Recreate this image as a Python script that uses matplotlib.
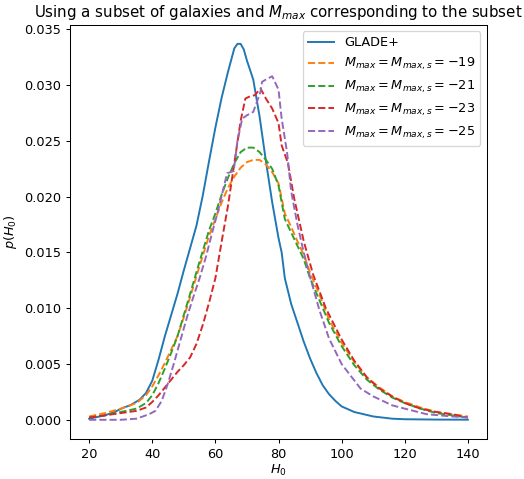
import matplotlib
matplotlib.use("Agg")
import matplotlib.pyplot as plt

# GLADE+ posterior
h0_glade = [20, 25, 28, 31, 33, 36, 38, 40, 42, 44, 46, 48, 50, 52, 54, 56, 58, 60, 62, 64, 66, 67, 68,
            69, 70, 72, 74, 76, 78, 80, 81, 82, 84, 86, 88, 90, 92, 94, 96, 98, 100, 104, 110, 116,
            120, 130, 140]
p_glade = [0.0001, 0.0004, 0.0007, 0.0011, 0.0013, 0.0018, 0.0024, 0.0035, 0.0054, 0.0075, 0.0094,
           0.0113, 0.0134, 0.0154, 0.0174, 0.0201, 0.0232, 0.0262, 0.0289, 0.0312, 0.0333, 0.0337,
           0.0337, 0.0332, 0.0322, 0.0305, 0.0272, 0.0232, 0.0195, 0.0163, 0.0150, 0.0127, 0.0104,
           0.0087, 0.0070, 0.0055, 0.0042, 0.0031, 0.0023, 0.0017, 0.0012, 0.0007, 0.0003, 0.0001,
           0.00005, 0.00002, 0.00001]

# M_max = -19
h0_19 = [20, 25, 30, 35, 38, 40, 42, 44, 46, 48, 50, 52, 55, 58, 60, 62, 64, 66, 68, 70, 72, 74, 76,
         78, 80, 82, 84, 86, 88, 90, 93, 96, 100, 104, 108, 112, 116, 120, 125, 130, 135, 140]
p_19 = [0.0003, 0.0006, 0.0010, 0.0015, 0.0022, 0.0030, 0.0040, 0.0051, 0.0063, 0.0075, 0.0092,
        0.0110, 0.0138, 0.0165, 0.0180, 0.0195, 0.0208, 0.0218, 0.0226, 0.0231, 0.0233, 0.0233,
        0.0229, 0.0222, 0.0212, 0.0185, 0.0173, 0.0160, 0.0148, 0.0132, 0.0112, 0.0090, 0.0069,
        0.0052, 0.0038, 0.0029, 0.0021, 0.0016, 0.0011, 0.0007, 0.0005, 0.0003]

# M_max = -21
h0_21 = [20, 25, 30, 35, 38, 40, 42, 44, 46, 48, 50, 52, 55, 58, 60, 62, 64, 66, 68, 70, 72, 74, 76,
         78, 80, 82, 84, 86, 88, 90, 93, 96, 100, 104, 108, 112, 116, 120, 125, 130, 135, 140]
p_21 = [0.0002, 0.0004, 0.0007, 0.0010, 0.0015, 0.0022, 0.0033, 0.0046, 0.0060, 0.0075, 0.0094,
        0.0113, 0.0142, 0.0170, 0.0185, 0.0202, 0.0217, 0.0230, 0.0240, 0.0244, 0.0244, 0.0240,
        0.0233, 0.0225, 0.0210, 0.0180, 0.0168, 0.0156, 0.0144, 0.0127, 0.0107, 0.0087, 0.0066,
        0.0049, 0.0036, 0.0027, 0.0020, 0.0015, 0.0010, 0.0006, 0.0004, 0.0002]

# M_max = -23
h0_23 = [20, 25, 30, 35, 38, 40, 42, 44, 46, 48, 50, 52, 54, 56, 58, 60, 62, 64, 66, 68, 69.5, 71,
         72.5, 74.3, 76, 78, 80, 81, 83, 85, 88, 91, 95, 100, 104, 108, 112, 116, 120, 125, 130,
         135, 140]
p_23 = [0.0002, 0.0004, 0.0006, 0.0008, 0.0011, 0.0016, 0.0022, 0.0029, 0.0036, 0.0043, 0.0049,
        0.0056, 0.0068, 0.0085, 0.0105, 0.0127, 0.0160, 0.0192, 0.0230, 0.0268, 0.0288, 0.0290,
        0.0291, 0.0297, 0.0288, 0.0279, 0.0266, 0.0246, 0.0230, 0.0198, 0.0160, 0.0130, 0.0100,
        0.0072, 0.0053, 0.0038, 0.0028, 0.0021, 0.0015, 0.0010, 0.0007, 0.0005, 0.0002]

# M_max = -25
h0_25 = [20, 25, 30, 35, 37, 39, 41, 43, 45, 47, 49, 51, 53, 55, 57, 59, 61, 63.7, 65.8, 67, 68.5,
         70, 72, 74.3, 74.8, 76, 78, 80, 81, 82.7, 84, 86, 88, 90, 93, 96, 100, 106, 110, 116, 120,
         127, 135, 140]
p_25 = [0.0000, 0.0000, 0.0000, 0.0001, 0.0003, 0.0005, 0.0008, 0.0017, 0.0033, 0.0052, 0.0072,
        0.0092, 0.0110, 0.0127, 0.0146, 0.0168, 0.0189, 0.0221, 0.0223, 0.0250, 0.0270, 0.0273,
        0.0276, 0.0294, 0.0303, 0.0305, 0.0308, 0.0296, 0.0270, 0.0240, 0.0205, 0.0175, 0.0150,
        0.0128, 0.0098, 0.0073, 0.0050, 0.0028, 0.0021, 0.0013, 0.0010, 0.0005, 0.0003, 0.0002]

dpi = 92.5
fig = plt.figure(figsize=(524 / dpi, 479 / dpi), dpi=dpi)
ax = fig.add_axes([0.134, 0.084, 0.795, 0.864])

ax.plot(h0_glade, p_glade, label="GLADE+")
ax.plot(h0_19, p_19, "--", label=r"$M_{max}=M_{max,s}=-19$")
ax.plot(h0_21, p_21, "--", label=r"$M_{max}=M_{max,s}=-21$")
ax.plot(h0_23, p_23, "--", label=r"$M_{max}=M_{max,s}=-23$")
ax.plot(h0_25, p_25, "--", label=r"$M_{max}=M_{max,s}=-25$")

ax.set_xlim(14, 146)
ax.set_ylim(-0.0017, 0.0354)
ax.set_xlabel(r"$H_0$", labelpad=2)
ax.set_ylabel(r"$p(H_0)$")
ax.set_title(r"Using a subset of galaxies and $M_{max}$ corresponding to the subset", fontsize=11.7)
ax.legend(loc="upper right")

fig.savefig("out.png", dpi=dpi)
